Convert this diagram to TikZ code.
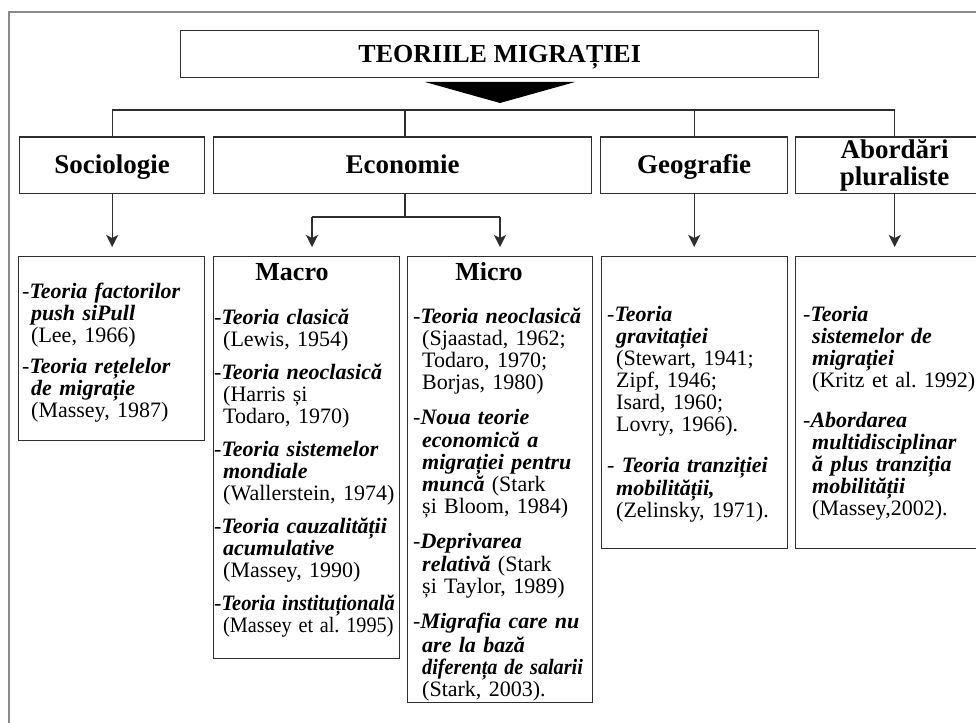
\documentclass[tikz,border=0pt]{standalone}
\usepackage{fontspec}
\usepackage{graphicx}
\setmainfont{Liberation Serif}
\usetikzlibrary{arrows.meta}
\definecolor{boxc}{HTML}{2E2E2E}
\definecolor{framec}{HTML}{8A8A8A}
\frenchspacing
\newcommand\tb[1]{{\bfseries\itshape #1}}
\newcommand\ent[1]{\par\hangindent=9pt\hangafter=1\noindent\strut-#1\par}
\newcommand\nar[2][0.93]{\scalebox{#1}[1]{#2}}
\tikzset{
  frame/.style={draw=framec, line width=1.5pt},
  box/.style={draw=boxc, line width=1.4pt, inner sep=0pt, anchor=north west},
  conn/.style={draw=boxc, line width=1.4pt},
  arr/.style={conn, -{Stealth[length=12pt,width=12pt,inset=3pt]}, shorten >=9pt},
  titlefont/.style={font=\fontsize{26}{27}\selectfont\bfseries},
  headfont/.style={font=\fontsize{27}{27}\selectfont\bfseries},
  sub/.style={font=\fontsize{26}{27}\selectfont\bfseries, inner sep=0pt, anchor=base},
  body/.style={inner sep=0pt, anchor=north west, text width=260pt,
    font=\fontsize{22}{22}\selectfont, execute at begin node={\parskip=0pt\parindent=0pt\frenchspacing}},
}
\begin{document}
\begin{tikzpicture}[x=1pt,y=-1pt]
\useasboundingbox (0,0) rectangle (976,722);
\fill[white] (0,0) rectangle (976,722);
% outer frame (cropped)
\draw[frame] (9,760) -- (9,12) -- (1000,12);

% title
\node[box, titlefont, minimum width=638pt, minimum height=47pt, text height=20pt, text depth=3pt] (title) at (180,30) {TEORIILE MIGRAȚIEI};
\fill[black] (425,82) -- (575,82) -- (500,103) -- cycle;

% first row
\node[box, headfont, minimum width=185pt, minimum height=56.5pt, text height=20pt, text depth=4pt] (soc) at (19,136.5) {Sociologie};
\node[box, headfont, minimum width=378pt, minimum height=56.5pt, text height=20pt, text depth=4pt] (eco) at (213,136.5) {Economie};
\node[box, headfont, minimum width=187pt, minimum height=56.5pt, text height=20pt, text depth=4pt] (geo) at (600,136.5) {Geografie};
\node[box, headfont, minimum width=198pt, minimum height=56.5pt, align=center] (abo) at (795,136.5) {Abordări\\pluraliste};

% bus
\coordinate (bus) at (0,110);
\coordinate (split) at (405,217);
\draw[conn] (soc.north) -- (soc.north |- bus) -- (abo.north |- bus) -- (abo.north);
\draw[conn] (split |- eco.north) -- (split |- bus);
\draw[conn] (geo.north) -- (geo.north |- bus);

% lower boxes
\node[box, minimum width=186pt, minimum height=184pt] (socb) at (18,256) {};
\node[box, minimum width=186pt, minimum height=402pt] (macb) at (213,256) {};
\node[box, minimum width=185pt, minimum height=446pt] (micb) at (407,256) {};
\node[box, minimum width=186pt, minimum height=292pt] (geob) at (601,256) {};
\node[box, minimum width=198pt, minimum height=292pt] (abob) at (795,256) {};

% arrows
\draw[arr] (soc.south) -- (soc.south |- socb.north);
\draw[arr] (geo.south) -- (geo.south |- geob.north);
\draw[arr] (abo.south) -- (abo.south |- abob.north);
\coordinate (mL) at (312,217);
\coordinate (mR) at (500,217);
\draw[conn] (split |- eco.south) -- (split);
\draw[conn] (mL) -- (mR);
\draw[arr] (mL) -- (mL |- macb.north);
\draw[arr] (mR) -- (mR |- micb.north);

% texts
\node[body] (soct) at (22,276.6) {%
\ent{\tb{Teoria factorilor}\newline\tb{push siPull}\newline(Lee, 1966)}
\vspace{9pt}
\ent{\tb{Teoria rețelelor}\newline\tb{de migrație}\newline(Massey, 1987)}};

\node[sub] (macro) at (292,280) {Macro};
\node[body] (mact) at (214,302.6) {%
\ent{\tb{Teoria clasică}\newline(Lewis, 1954)}
\vspace{11pt}
\ent{\tb{Teoria neoclasică}\newline(Harris și\newline Todaro, 1970)}
\vspace{11pt}
\ent{\tb{Teoria sistemelor}\newline\tb{mondiale}\newline(Wallerstein, 1974)}
\vspace{11pt}
\ent{\tb{Teoria cauzalității}\newline\tb{acumulative}\newline(Massey, 1990)}
\vspace{11pt}
\ent{\nar{\tb{Teoria instituțională}}\newline\nar[0.92]{(Massey et al. 1995)}}};

\node[sub] (micro) at (489,280) {Micro};
\node[body] (mict) at (413,301.6) {%
\ent{\tb{Teoria neoclasică}\newline(Sjaastad, 1962;\newline Todaro, 1970;\newline Borjas, 1980)}
\vspace{13pt}
\ent{\tb{Noua teorie}\newline\tb{economică a}\newline\tb{migrației pentru}\newline\tb{muncă} (Stark\newline și Bloom, 1984)}
\vspace{13pt}
\ent{\tb{Deprivarea}\newline\tb{relativă} (Stark\newline și Taylor, 1989)}
\vspace{13pt}
\ent{\tb{Migrafia care nu}\newline\tb{are la bază}\newline\nar[0.92]{\tb{diferența de salarii}}\newline(Stark, 2003).}};

\node[body] (geot) at (607,299.6) {%
\ent{\tb{Teoria}\newline\tb{gravitației}\newline(Stewart, 1941;\newline Zipf, 1946;\newline Isard, 1960;\newline Lovry, 1966).}
\vspace{19pt}
\ent{ \tb{Teoria tranziției}\newline\tb{mobilității,}\newline(Zelinsky, 1971).}};

\node[body] (abot) at (803,299.6) {%
\ent{\tb{Teoria}\newline\tb{sistemelor de}\newline\tb{migrației}\newline(Kritz et al. 1992)}
\vspace{18pt}
\ent{\tb{Abordarea}\newline\tb{multidisciplinar}\newline\tb{ă plus tranziția}\newline\tb{mobilității}\newline(Massey,2002).}};
\end{tikzpicture}
\end{document}
